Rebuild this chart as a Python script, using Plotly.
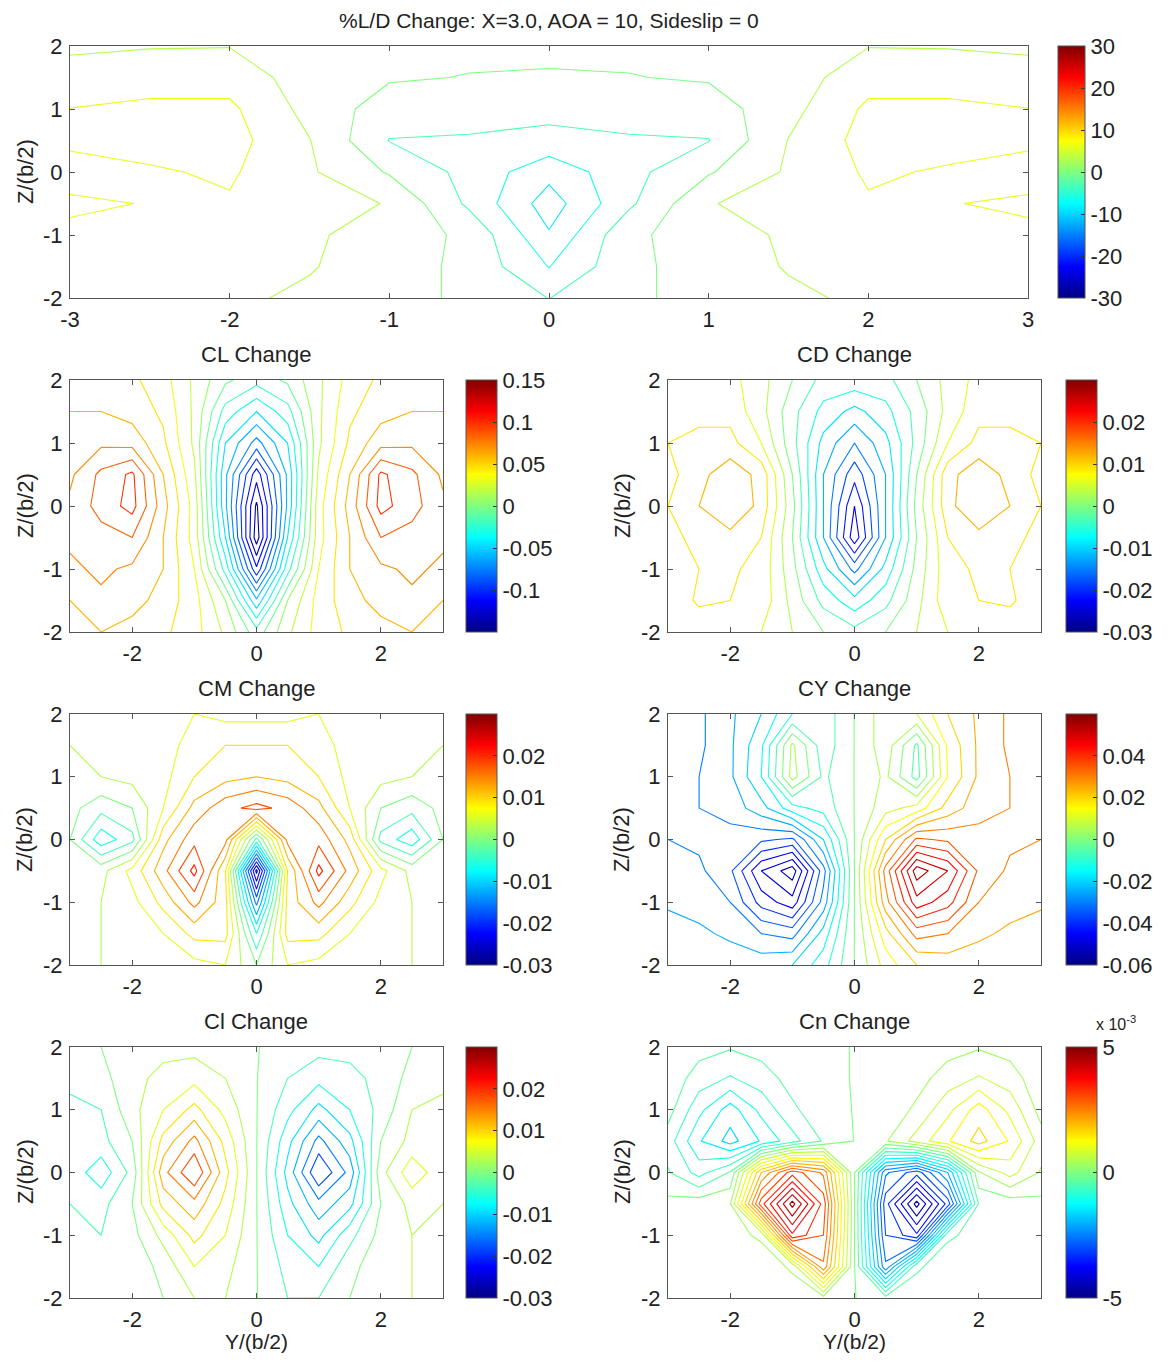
import plotly.graph_objects as go

# The page body keeps an 8px margin, so the figure is drawn 8px smaller on each side
PAGE_W, PAGE_H = 1172, 1363
OFF = 8
W, H = PAGE_W - 2 * OFF, PAGE_H - 2 * OFF

# ---------------- data ----------------
Y_VALUES = [-3, -2.5, -2, -1.5, -1, -0.5, 0, 0.5, 1, 1.5, 2, 2.5, 3]
Z_VALUES = [-2, -1.5, -1, -0.5, 0, 0.5, 1, 1.5, 2]

# %L/D change (rows: Z from -2 to 2, columns: Y from -3 to 3)
LD_GRID = [
    [4.0, 4.2, 3.5, 2.5, 1.5, -0.8, -3.05, -0.8, 1.5, 2.5, 3.5, 4.2, 4.0],
    [4.5, 4.8, 4.5, 3.2, 1.5, -0.8, -6.1, -0.8, 1.5, 3.2, 4.5, 4.8, 4.5],
    [5.5, 5.5, 5.0, 3.5, 1.5, -0.6, -8.7, -0.6, 1.5, 3.5, 5.0, 5.5, 5.5],
    [6.4, 5.9, 5.7, 4.5, 2.8, -3.6, -10.5, -3.6, 2.8, 4.5, 5.7, 5.9, 6.4],
    [5.0, 5.7, 6.4, 3.4, -0.3, -4.0, -8.0, -4.0, -0.3, 3.4, 6.4, 5.7, 5.0],
    [6.5, 7.0, 7.2, 3.1, -3.1, -3.3, -4.0, -3.3, -3.1, 3.1, 7.2, 7.0, 6.5],
    [6.05, 6.5, 6.6, 2.0, -1.5, -1.8, -2.0, -1.8, -1.5, 2.0, 6.6, 6.5, 6.05],
    [4.2, 5.0, 4.8, 1.5, 0.3, -0.1, -0.2, -0.1, 0.3, 1.5, 4.8, 5.0, 4.2],
    [2.5, 2.8, 2.9, 2.0, 1.5, 0.6, 0.5, 0.6, 1.5, 2.0, 2.9, 2.8, 2.5],
]

CL_GRID = [
    [0.05, 0.05, 0.045, 0.04, 0.03, 0.01, -0.02, 0.01, 0.03, 0.04, 0.045, 0.05, 0.05],
    [0.05, 0.06, 0.055, 0.045, 0.03, 0.0, -0.06, 0.0, 0.03, 0.045, 0.055, 0.06, 0.05],
    [0.06, 0.065, 0.06, 0.05, 0.025, -0.03, -0.11, -0.03, 0.025, 0.05, 0.06, 0.065, 0.06],
    [0.065, 0.07, 0.075, 0.05, 0.02, -0.05, -0.145, -0.05, 0.02, 0.05, 0.075, 0.07, 0.065],
    [0.065, 0.08, 0.092, 0.055, 0.02, -0.06, -0.14, -0.06, 0.02, 0.055, 0.092, 0.08, 0.065],
    [0.06, 0.078, 0.09, 0.05, 0.015, -0.06, -0.12, -0.06, 0.015, 0.05, 0.09, 0.078, 0.06],
    [0.06, 0.06, 0.058, 0.04, 0.01, -0.05, -0.08, -0.05, 0.01, 0.04, 0.058, 0.06, 0.06],
    [0.05, 0.05, 0.045, 0.035, 0.01, -0.03, -0.05, -0.03, 0.01, 0.035, 0.045, 0.05, 0.05],
    [0.04, 0.04, 0.04, 0.03, 0.01, -0.01, -0.02, -0.01, 0.01, 0.03, 0.04, 0.04, 0.04],
]

CD_GRID = [
    [0.006, 0.007, 0.007, 0.006, 0.003, 0.0, -0.002, 0.0, 0.003, 0.006, 0.007, 0.007, 0.006],
    [0.007, 0.0095, 0.009, 0.008, 0.002, -0.004, -0.008, -0.004, 0.002, 0.008, 0.009, 0.0095, 0.007],
    [0.007, 0.009, 0.0095, 0.008, 0.001, -0.008, -0.016, -0.008, 0.001, 0.008, 0.0095, 0.009, 0.007],
    [0.008, 0.010, 0.011, 0.009, 0.0, -0.012, -0.026, -0.012, 0.0, 0.009, 0.011, 0.010, 0.008],
    [0.009, 0.012, 0.015, 0.011, 0.001, -0.012, -0.024, -0.012, 0.001, 0.011, 0.015, 0.012, 0.009],
    [0.008, 0.011, 0.014, 0.011, 0.0, -0.012, -0.020, -0.012, 0.0, 0.011, 0.014, 0.011, 0.008],
    [0.009, 0.010, 0.010, 0.006, -0.002, -0.010, -0.015, -0.010, -0.002, 0.006, 0.010, 0.010, 0.009],
    [0.007, 0.008, 0.008, 0.004, -0.002, -0.007, -0.010, -0.007, -0.002, 0.004, 0.008, 0.008, 0.007],
    [0.006, 0.007, 0.007, 0.004, 0.0, -0.004, -0.004, -0.004, 0.0, 0.004, 0.007, 0.007, 0.006],
]

CM_GRID = [
    [0.002, 0.003, 0.004, 0.004, 0.005, 0.006, 0.0, 0.006, 0.005, 0.004, 0.004, 0.003, 0.002],
    [0.002, 0.003, 0.004, 0.006, 0.010, 0.010, -0.006, 0.010, 0.010, 0.006, 0.004, 0.003, 0.002],
    [0.002, 0.003, 0.005, 0.010, 0.016, 0.010, -0.016, 0.010, 0.016, 0.010, 0.005, 0.003, 0.002],
    [0.001, 0.002, 0.007, 0.014, 0.022, 0.009, -0.028, 0.009, 0.022, 0.014, 0.007, 0.002, 0.001],
    [0.0, -0.008, -0.004, 0.011, 0.017, 0.016, -0.004, 0.016, 0.017, 0.011, -0.004, -0.008, 0.0],
    [0.001, -0.002, 0.0, 0.006, 0.013, 0.017, 0.019, 0.017, 0.013, 0.006, 0.0, -0.002, 0.001],
    [0.002, 0.003, 0.004, 0.005, 0.009, 0.011, 0.012, 0.011, 0.009, 0.005, 0.004, 0.003, 0.002],
    [0.003, 0.004, 0.004, 0.005, 0.007, 0.009, 0.009, 0.009, 0.007, 0.005, 0.004, 0.004, 0.003],
    [0.004, 0.005, 0.005, 0.005, 0.006, 0.005, 0.005, 0.005, 0.006, 0.005, 0.005, 0.005, 0.004],
]

CY_GRID = [
    [-0.022, -0.022, -0.022, -0.022, -0.020, -0.012, 0.0001, 0.012, 0.020, 0.022, 0.022, 0.022, 0.022],
    [-0.022, -0.024, -0.026, -0.030, -0.032, -0.018, 0.0001, 0.018, 0.032, 0.030, 0.026, 0.024, 0.022],
    [-0.026, -0.027, -0.030, -0.042, -0.048, -0.028, 0.0001, 0.028, 0.048, 0.042, 0.030, 0.027, 0.026],
    [-0.028, -0.029, -0.034, -0.050, -0.058, -0.032, 0.0001, 0.032, 0.058, 0.050, 0.034, 0.029, 0.028],
    [-0.030, -0.031, -0.032, -0.034, -0.036, -0.020, 0.0001, 0.020, 0.036, 0.034, 0.032, 0.031, 0.030],
    [-0.032, -0.030, -0.028, -0.022, -0.012, -0.008, 0.0001, 0.008, 0.012, 0.022, 0.028, 0.030, 0.032],
    [-0.032, -0.030, -0.026, -0.015, 0.007, -0.006, 0.0001, 0.006, -0.007, 0.015, 0.026, 0.030, 0.032],
    [-0.034, -0.031, -0.026, -0.016, 0.006, -0.008, 0.0001, 0.008, -0.006, 0.016, 0.026, 0.031, 0.034],
    [-0.034, -0.031, -0.026, -0.020, -0.010, -0.008, 0.0001, 0.008, 0.010, 0.020, 0.026, 0.031, 0.034],
]

CL_ROLL_GRID = [
    [-0.002, -0.003, -0.002, 0.0, 0.003, 0.003, 0.0001, -0.003, -0.003, 0.0, 0.002, 0.003, 0.002],
    [-0.002, -0.003, -0.002, 0.001, 0.006, 0.004, 0.0001, -0.004, -0.006, -0.001, 0.002, 0.003, 0.002],
    [-0.002, -0.003, -0.001, 0.004, 0.010, 0.006, 0.0001, -0.006, -0.010, -0.004, 0.001, 0.003, 0.002],
    [-0.003, -0.004, 0.0, 0.010, 0.014, 0.008, 0.0001, -0.008, -0.014, -0.010, 0.0, 0.004, 0.003],
    [-0.004, -0.008, -0.002, 0.014, 0.021, 0.010, 0.0001, -0.010, -0.021, -0.014, 0.002, 0.008, 0.004],
    [-0.003, -0.004, 0.0, 0.010, 0.016, 0.008, 0.0001, -0.008, -0.016, -0.010, 0.0, 0.004, 0.003],
    [-0.004, -0.003, 0.002, 0.006, 0.010, 0.005, 0.0001, -0.005, -0.010, -0.006, -0.002, 0.003, 0.004],
    [-0.002, -0.001, 0.002, 0.004, 0.005, 0.003, 0.0001, -0.003, -0.005, -0.004, -0.002, 0.001, 0.002],
    [-0.001, 0.0, 0.001, 0.002, 0.002, 0.001, 0.0001, -0.001, -0.002, -0.002, -0.001, 0.0, 0.001],
]

# Cn change in units of 1e-3
CN_GRID = [
    [0.1, 0.1, 0.1, 0.1, 0.1, 0.2, 0.01, -0.2, -0.1, -0.1, -0.1, -0.1, -0.1],
    [0.1, 0.1, 0.1, 0.1, 0.4, 2.6, 0.01, -2.6, -0.4, -0.1, -0.1, -0.1, -0.1],
    [0.1, 0.1, 0.2, 0.4, 3.6, 3.0, 0.01, -3.0, -3.6, -0.4, -0.2, -0.1, -0.1],
    [0.1, 0.2, 0.3, 3.2, 4.8, 3.2, 0.01, -3.2, -4.8, -3.2, -0.3, -0.2, -0.1],
    [-0.3, -0.8, -0.3, 2.0, 3.2, 2.6, 0.01, -2.6, -3.2, -2.0, 0.3, 0.8, 0.3],
    [-0.5, -1.3, -1.8, -1.3, -0.8, -0.3, 0.01, 0.3, 0.8, 1.3, 1.8, 1.3, 0.5],
    [-0.2, -0.9, -1.5, -0.9, -0.4, -0.1, 0.01, 0.1, 0.4, 0.9, 1.5, 0.9, 0.2],
    [-0.1, -0.5, -0.7, -0.5, -0.2, -0.05, 0.01, 0.05, 0.2, 0.5, 0.7, 0.5, 0.1],
    [-0.05, -0.2, -0.3, -0.2, -0.1, -0.05, 0.01, 0.05, 0.1, 0.2, 0.3, 0.2, 0.05],
]

# ---------------- styling ----------------
JET = [[0.0, "rgb(0,0,128)"], [0.125, "rgb(0,0,255)"], [0.375, "rgb(0,255,255)"],
       [0.625, "rgb(255,255,0)"], [0.875, "rgb(255,0,0)"], [1.0, "rgb(128,0,0)"]]
FONT = "Liberation Sans, Arial, sans-serif"
TXT = "#222222"
AX = "#555555"
FS = 22

fig = go.Figure()


def px_x(p):
    return (p - OFF) / W


def px_y(p):
    return 1 - (p - OFF) / H


def add_panel(idx, grid, zmin, zmax, step, xpx, ypx, cbx, cbw, tickvals, ticktext, xticks):
    xa = "x" if idx == 1 else f"x{idx}"
    ya = "y" if idx == 1 else f"y{idx}"
    xd = [px_x(xpx[0]), px_x(xpx[1])]
    yd = [px_y(ypx[1]), px_y(ypx[0])]
    fig.add_trace(go.Contour(
        x=Y_VALUES, y=Z_VALUES, z=grid, xaxis=xa, yaxis=ya,
        autocontour=False,
        contours=dict(coloring="lines", start=zmin, end=zmax, size=step),
        zmin=zmin, zmax=zmax, colorscale=JET, showscale=False,
        line=dict(width=1.1, smoothing=0), hoverinfo="skip"))
    fig.add_trace(go.Scatter(
        x=[None], y=[None], xaxis=xa, yaxis=ya, mode="markers", showlegend=False,
        hoverinfo="skip",
        marker=dict(color=[zmin, zmax], cmin=zmin, cmax=zmax, colorscale=JET, showscale=True,
                    colorbar=dict(x=px_x(cbx), xanchor="left", y=yd[0], yanchor="bottom",
                                  len=yd[1] - yd[0], lenmode="fraction",
                                  thickness=cbw, thicknessmode="pixels",
                                  outlinewidth=1, outlinecolor=AX, xpad=0, ypad=0,
                                  tickvals=tickvals, ticktext=ticktext,
                                  ticks="inside", ticklen=4, tickcolor="#333",
                                  tickfont=dict(family=FONT, size=FS, color=TXT)))))
    axname = "xaxis" if idx == 1 else f"xaxis{idx}"
    ayname = "yaxis" if idx == 1 else f"yaxis{idx}"
    common = dict(showgrid=False, zeroline=False, showline=True, mirror="ticks",
                  linecolor=AX, linewidth=1, ticks="inside", ticklen=5, tickcolor=AX,
                  ticklabelstandoff=2,
                  tickfont=dict(family=FONT, size=FS, color=TXT), fixedrange=True)
    fig.layout[axname] = dict(domain=xd, range=[-3, 3], anchor=ya, tickvals=xticks,
                              ticktext=[str(t) for t in xticks], **common)
    fig.layout[ayname] = dict(domain=yd, range=[-2, 2], anchor=xa, tickvals=[-2, -1, 0, 1, 2],
                              ticktext=["-2", "-1", "0", "1", "2"], **common)


L = (70, 443)
R = (668, 1041)
ROW1 = (46, 298)
ROW2 = (380, 632)
ROW3 = (714, 965)
ROW4 = (1047, 1298)
SMALL_X = [-2, 0, 2]

add_panel(1, LD_GRID, -30, 30, 3, (70, 1028), ROW1, 1058, 27,
          [-30, -20, -10, 0, 10, 20, 30], ["-30", "-20", "-10", "0", "10", "20", "30"],
          [-3, -2, -1, 0, 1, 2, 3])
add_panel(2, CL_GRID, -0.15, 0.15, 0.0125, L, ROW2, 466, 31,
          [-0.1, -0.05, 0, 0.05, 0.1, 0.15], ["-0.1", "-0.05", "0", "0.05", "0.1", "0.15"], SMALL_X)
add_panel(3, CD_GRID, -0.03, 0.03, 0.003, R, ROW2, 1066, 31,
          [-0.03, -0.02, -0.01, 0, 0.01, 0.02], ["-0.03", "-0.02", "-0.01", "0", "0.01", "0.02"], SMALL_X)
add_panel(4, CM_GRID, -0.03, 0.03, 0.003, L, ROW3, 466, 31,
          [-0.03, -0.02, -0.01, 0, 0.01, 0.02], ["-0.03", "-0.02", "-0.01", "0", "0.01", "0.02"], SMALL_X)
add_panel(5, CY_GRID, -0.06, 0.06, 0.005, R, ROW3, 1066, 31,
          [-0.06, -0.04, -0.02, 0, 0.02, 0.04], ["-0.06", "-0.04", "-0.02", "0", "0.02", "0.04"], SMALL_X)
add_panel(6, CL_ROLL_GRID, -0.03, 0.03, 0.003, L, ROW4, 466, 31,
          [-0.03, -0.02, -0.01, 0, 0.01, 0.02], ["-0.03", "-0.02", "-0.01", "0", "0.01", "0.02"], SMALL_X)
add_panel(7, CN_GRID, -5, 5, 1 / 3, R, ROW4, 1066, 31,
          [-5, 0, 5], ["-5", "0", "5"], SMALL_X)

ann = []


def text(x, y, s, size=FS, angle=0):
    ann.append(dict(x=px_x(x), y=px_y(y), xref="paper", yref="paper", text=s, showarrow=False,
                    xanchor="center", yanchor="middle", textangle=angle,
                    font=dict(family=FONT, size=size, color=TXT)))


text(549, 21, "%L/D Change: X=3.0, AOA = 10, Sideslip = 0", 21)
text(256, 354, "CL Change")
text(854, 354, "CD Change")
text(256, 688, "CM Change")
text(854, 688, "CY Change")
text(256, 1021, "Cl Change")
text(854, 1021, "Cn Change")
for yc in (172, 506, 840, 1172):
    text(25, yc, "Z/(b/2)", FS, -90)
for yc in (506, 840, 1172):
    text(622, yc, "Z/(b/2)", FS, -90)
text(256, 1341, "Y/(b/2)", 21)
text(854, 1341, "Y/(b/2)", 21)
ann.append(dict(x=px_x(1094), y=px_y(1023), xref="paper", yref="paper", text="x 10<sup>-3</sup>",
                showarrow=False, xanchor="left", yanchor="middle",
                font=dict(family=FONT, size=16, color=TXT)))

fig.update_layout(width=W, height=H, margin=dict(l=0, r=0, t=0, b=0, autoexpand=False),
                  paper_bgcolor="white", plot_bgcolor="white", showlegend=False,
                  annotations=ann)

fig.write_html("out.html")
